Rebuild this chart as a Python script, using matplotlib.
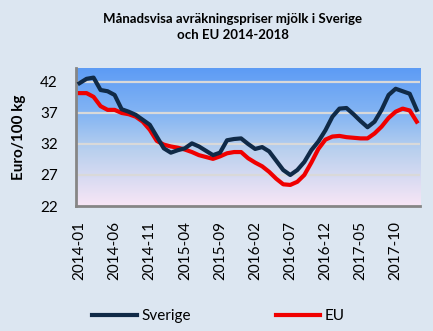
import matplotlib.pyplot as plt
import numpy as np
from matplotlib.colors import LinearSegmentedColormap

plt.rcParams['font.family'] = ['Lato', 'DejaVu Sans']

# månadsvärden jan 2014 - jan 2018, euro/100 kg
sverige = [41.8, 42.5, 42.7, 40.7, 40.5, 39.9, 37.6, 37.2, 36.7, 35.9,
           35.1, 33.2, 31.3, 30.6, 31.0, 31.3, 32.1, 31.6, 30.9, 30.2,
           30.6, 32.6, 32.8, 32.9, 32.0, 31.2, 31.5, 30.8, 29.3, 27.8,
           27.0, 27.8, 29.1, 31.0, 32.4, 34.2, 36.4, 37.7, 37.8, 36.8,
           35.7, 34.7, 35.6, 37.5, 39.9, 40.9, 40.5, 40.1, 37.5]
eu = [40.2, 40.2, 39.6, 38.1, 37.5, 37.5, 37.0, 36.8, 36.4, 35.6,
      34.3, 32.5, 31.9, 31.6, 31.4, 31.1, 30.7, 30.2, 29.9, 29.6,
      30.0, 30.5, 30.7, 30.7, 29.7, 29.0, 28.4, 27.5, 26.4, 25.5,
      25.4, 25.9, 27.0, 29.0, 31.2, 32.7, 33.2, 33.3, 33.1, 33.0,
      32.9, 32.9, 33.7, 34.8, 36.2, 37.2, 37.7, 37.4, 35.6]
tick_labels = ['2014-01', '2014-06', '2014-11', '2015-04', '2015-09',
               '2016-02', '2016-07', '2016-12', '2017-05', '2017-10']

x = np.arange(len(sverige))
bg = '#DCE6F1'
ymin, ymax = 22, 44.25

fig = plt.figure(figsize=(4.33, 3.31), dpi=100, facecolor=bg)
ax = fig.add_axes([0.1755, 0.3776, 0.795, 0.417])

# gradient i ritytan, blå upptill och ljust rosa nedtill
cmap = LinearSegmentedColormap.from_list(
    'bg', [(0, '#5C9BF5'), (0.35, '#86B6F3'), (0.6, '#B9D0EE'), (1, '#F8E6F6')])
grad = np.linspace(0, 1, 256).reshape(-1, 1)
ax.imshow(grad, cmap=cmap, aspect='auto', origin='upper',
          extent=(-0.5, len(x) - 0.5, ymin, ymax), zorder=0)
ax.set_xlim(-0.5, len(x) - 0.5)
ax.set_ylim(ymin, ymax)

for v in [27, 32, 37, 42]:
    ax.axhline(v, color='#D9D9D9', lw=1.6, zorder=1)

ax.plot(x, sverige, color='#102A47', lw=3.0, label='Sverige', zorder=3,
        solid_joinstyle='round')
ax.plot(x, eu, color='#F00000', lw=3.0, label='EU', zorder=2,
        solid_joinstyle='round')

ax.set_yticks([22, 27, 32, 37, 42])
ax.set_xticks(x[::5])
ax.set_xticklabels(tick_labels, rotation=90)
ax.tick_params(axis='y', length=0, pad=13, labelsize=11)
ax.tick_params(axis='x', length=0, pad=11, labelsize=11)

for s in ['top', 'right']:
    ax.spines[s].set_visible(False)
for s in ['left', 'bottom']:
    ax.spines[s].set_color('#868686')
    ax.spines[s].set_linewidth(2)

fig.text(0.538, 0.918, 'Månadsvisa avräkningspriser mjölk i Sverige\noch EU 2014-2018',
         ha='center', va='center', fontsize=9.5, fontweight='bold', linespacing=1.35)
fig.text(0.045, 0.585, 'Euro/100 kg', rotation=90, ha='center', va='center',
         fontsize=11, fontweight='bold')

fig.legend(loc='center', bbox_to_anchor=(0.505, 0.045), ncol=2, frameon=False,
           handlelength=2.9, handletextpad=0.3, columnspacing=5.6, fontsize=11)

fig.savefig('out.png', dpi=100, facecolor=bg)
